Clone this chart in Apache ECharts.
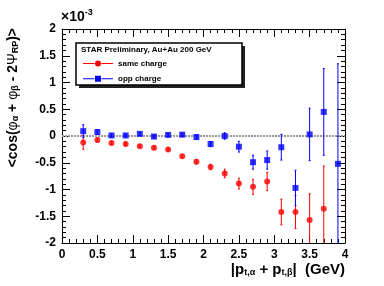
<!DOCTYPE html>
<html><head><meta charset="utf-8">
<script src="https://cdn.jsdelivr.net/npm/echarts@6/dist/echarts.min.js"></script>
<style>html,body{margin:0;padding:0;background:#fff}#c{width:384px;height:286px}</style>
</head><body><div id="c"></div>
<script>
// x bin centres (GeV)
const xSame = [0.3,0.5,0.7,0.9,1.1,1.3,1.5,1.7,1.9,2.1,2.3,2.5,2.7,2.9,3.1,3.3,3.5,3.7];
const xOpp  = [0.3,0.5,0.7,0.9,1.1,1.3,1.5,1.7,1.9,2.1,2.3,2.5,2.7,2.9,3.1,3.3,3.5,3.7,3.9];
// values in units of 1e-3
const sameVal = [-0.12,-0.075,-0.13,-0.15,-0.19,-0.22,-0.25,-0.38,-0.48,-0.58,-0.70,-0.89,-0.95,-0.85,-1.42,-1.42,-1.57,-1.36];
const sameErr = [0.13,0.04,0.03,0.03,0.03,0.03,0.03,0.03,0.04,0.05,0.08,0.10,0.14,0.17,0.24,0.31,0.49,0.80];
const oppVal  = [0.09,0.075,0.01,0.01,0.04,-0.01,0.02,0.025,-0.02,-0.15,0.0,-0.20,-0.49,-0.45,-0.21,-0.97,0.03,0.45,-0.52];
const oppErr  = [0.12,0.04,0.03,0.03,0.03,0.03,0.03,0.03,0.04,0.05,0.06,0.10,0.13,0.17,0.24,0.33,0.49,0.81,1.87];
const seriesNames = ['same charge','opp charge'];
const legendTitle = 'STAR Preliminary, Au+Au 200 GeV';

const RED = '#ff0000', BLUE = '#0000ff';
const FONT = '"Liberation Sans", Arial, sans-serif';

function pts(xs, ys){ return xs.map((x,i)=>[x, ys[i]]); }
function errPts(xs, ys, es){ return xs.map((x,i)=>[x, ys[i], es[i]]); }
function errRender(color){
  return function(params, api){
    const x = api.value(0), y = api.value(1), e = api.value(2);
    const a = api.coord([x, y + e]), b = api.coord([x, y - e]);
    const st = {stroke: color, lineWidth: 1};
    return {type:'group', children:[
      {type:'line', shape:{x1:a[0], y1:a[1], x2:b[0], y2:b[1]}, style: st},
      {type:'line', shape:{x1:a[0]-1, y1:a[1], x2:a[0]+1, y2:a[1]}, style: st},
      {type:'line', shape:{x1:b[0]-1, y1:b[1], x2:b[0]+1, y2:b[1]}, style: st}
    ]};
  };
}

const axisCommon = {
  axisLine: {show:true, onZero:false, lineStyle:{color:'#000', width:1}},
  axisTick: {show:true, inside:true, length:8, lineStyle:{color:'#000'}},
  minorTick: {show:true, splitNumber:5, length:4, lineStyle:{color:'#000'}},
  splitLine: {show:false}
};
const labelStyle = {color:'#000', fontFamily:FONT, fontWeight:'bold', fontSize:12};

const iconCircle = 'path://M0,2.5H11.5V3.5H0Z M18.5,2.5H30V3.5H18.5Z M12,3A3,3 0 1,0 18,3A3,3 0 1,0 12,3Z';
const iconSquare = 'path://M0,2.5H11.5V3.5H0Z M18.5,2.5H30V3.5H18.5Z M12,0H18V6H12Z';

const chart = echarts.init(document.getElementById('c'), null, {renderer:'canvas'});
chart.setOption({
  animation: false,
  backgroundColor: '#fff',
  grid: {left:62, right:39, top:29, bottom:43},
  xAxis: [
    Object.assign({type:'value', min:0, max:4, interval:0.5, position:'bottom',
      axisLabel: Object.assign({margin:6}, labelStyle)}, axisCommon),
    Object.assign({type:'value', min:0, max:4, interval:0.5, position:'top',
      axisLabel:{show:false}}, axisCommon)
  ],
  yAxis: [
    Object.assign({type:'value', min:-2, max:2, interval:0.5, position:'left',
      axisLabel: Object.assign({margin:6}, labelStyle)}, axisCommon),
    Object.assign({type:'value', min:-2, max:2, interval:0.5, position:'right',
      axisLabel:{show:false}}, axisCommon)
  ],
  legend: {
    orient:'vertical', left:83, top:58.5, padding:0, itemGap:5.3,
    itemWidth:30, itemHeight:6, z:10,
    textStyle:{fontFamily:FONT, fontWeight:'bold', fontSize:8, color:'#000', lineHeight:10},
    data:[
      {name:seriesNames[0], icon:iconCircle, itemStyle:{color:RED}},
      {name:seriesNames[1], icon:iconSquare, itemStyle:{color:BLUE}}
    ]
  },
  series: [
    {type:'custom', name:seriesNames[0], xAxisIndex:0, yAxisIndex:0, clip:true,
      renderItem: errRender(RED), data: errPts(xSame, sameVal, sameErr), z:3,
      encode:{x:0, y:1}, itemStyle:{color:RED}},
    {type:'custom', name:seriesNames[1], xAxisIndex:0, yAxisIndex:0, clip:true,
      renderItem: errRender(BLUE), data: errPts(xOpp, oppVal, oppErr), z:3,
      encode:{x:0, y:1}, itemStyle:{color:BLUE}},
    {type:'scatter', name:seriesNames[0], symbol:'circle', symbolSize:6,
      itemStyle:{color:RED}, data: pts(xSame, sameVal), z:4,
      markLine:{silent:true, symbol:'none', label:{show:false},
        lineStyle:{color:'#999', type:[2,1], width:2}, data:[{yAxis:0}], z:1}},
    {type:'scatter', name:seriesNames[1], symbol:'rect', symbolSize:6,
      itemStyle:{color:BLUE}, data: pts(xOpp, oppVal), z:5}
  ],
  graphic: [
    {type:'rect', z:1, shape:{x:79, y:46, width:166, height:42}, style:{fill:'#222'}},
    {type:'rect', z:2, shape:{x:76, y:43, width:166, height:42}, style:{fill:'#fff', stroke:'#000', lineWidth:1.5}},
    {type:'text', z:11, x:81, y:49.5, style:{text:legendTitle, fontFamily:FONT, fontWeight:'bold', fontSize:8, fill:'#000', verticalAlign:'middle'}},
    {type:'text', z:11, x:61, y:8, style:{
      text:'{m|×10}{s|-3}', fill:'#000',
      rich:{m:{fontFamily:FONT, fontWeight:'bold', fontSize:14, lineHeight:16, verticalAlign:'bottom', padding:[5,0,0,0]},
            s:{fontFamily:FONT, fontWeight:'bold', fontSize:9, lineHeight:10, verticalAlign:'top'}}}},
    {type:'text', z:11, x:345, y:262, style:{
      text:'{m||p}{s|t,α}{m| + p}{s|t,β}{m||  (GeV)}', fill:'#000', align:'right',
      rich:{m:{fontFamily:FONT, fontWeight:'bold', fontSize:15, lineHeight:15, verticalAlign:'top'},
            s:{fontFamily:FONT, fontWeight:'bold', fontSize:9, lineHeight:9, verticalAlign:'bottom', padding:[10,0,0,0]}}}},
    {type:'text', z:11, x:6, y:28, rotation:Math.PI/2, style:{
      text:'{m|<cos(}{g|φ}{s|α}{m| + }{g|φ}{s|β}{m| - 2}{g|Ψ}{s|RP}{m|)>}', fill:'#000', align:'right',
      rich:{m:{fontFamily:FONT, fontWeight:'bold', fontSize:14, lineHeight:14, verticalAlign:'top'},
            g:{fontFamily:FONT, fontSize:14, lineHeight:14, verticalAlign:'top'},
            s:{fontFamily:FONT, fontWeight:'bold', fontSize:9, lineHeight:9, verticalAlign:'bottom', padding:[9,0,0,0]}}}}
  ]
});
</script></body></html>
